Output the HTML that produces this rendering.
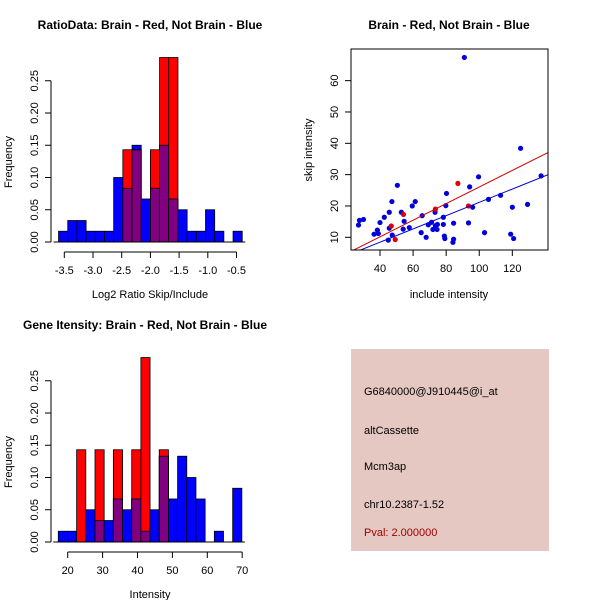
<!DOCTYPE html>
<html><head><meta charset="utf-8"><style>
body{margin:0;background:#fff}
svg{display:block;font-family:"Liberation Sans",sans-serif}
</style></head><body>
<svg id="s" width="600" height="600" viewBox="0 0 600 600" xmlns="http://www.w3.org/2000/svg">
<rect width="600" height="600" fill="#fff"/>
<text x="150" y="29" font-size="12" font-weight="bold" text-anchor="middle">RatioData: Brain - Red, Not Brain - Blue</text>
<text x="449" y="29" font-size="12" font-weight="bold" text-anchor="middle">Brain - Red, Not Brain - Blue</text>
<text x="145" y="329" font-size="12" font-weight="bold" text-anchor="middle">Gene Itensity: Brain - Red, Not Brain - Blue</text>
<g>
<rect x="351" y="349" width="198" height="202" fill="#e6c8c2"/>
<text x="364" y="395" font-size="11">G6840000@J910445@i_at</text>
<text x="364" y="434" font-size="11">altCassette</text>
<text x="364" y="470" font-size="11">Mcm3ap</text>
<text x="364" y="508" font-size="11">chr10.2387-1.52</text>
<text x="364" y="536" font-size="11" fill="#a00000">Pval: 2.000000</text>
</g>
</svg>
<script>
// Ratio histogram data
const ratioBinStart = -3.6, ratioBinWidth = 0.16;
const ratioBlue = [0.0167,0.0333,0.0333,0.0167,0.0167,0.0167,0.1,0.0833,0.15,0.0667,0.0833,0.15,0.0667,0.05,0.0167,0.0167,0.05,0.0167,0,0.0167];
const ratioRed  = [0,0,0,0,0,0,0,0.143,0.143,0,0.143,0.286,0.286,0,0,0,0,0,0,0];
const ratioXTicks = [-3.5,-3.0,-2.5,-2.0,-1.5,-1.0,-0.5];
const freqTicks = [0,0.05,0.10,0.15,0.20,0.25];
const freqTickLabels = ["0.00","0.05","0.10","0.15","0.20","0.25"];
// Intensity histogram data
const intBinStart = 17.3, intBinWidth = 2.63;
const intBlue = [0.0167,0.0167,0,0.05,0.0333,0.0333,0.0667,0.05,0.0667,0.0167,0.05,0.133,0.0667,0.133,0.1,0.0667,0,0.0167,0,0.0833];
const intRed  = [0,0,0.143,0,0.143,0,0.143,0,0.143,0.286,0,0.143,0,0,0,0,0,0,0,0];
const intXTicks = [20,30,40,50,60,70];
// Scatter data
const blueX = [27,27.6,30,36.4,38.4,39,40,42.6,45,45.6,45.6,47.2,47.4,50.5,52.9,54,54.6,57.7,59.5,61.3,64.9,65.5,67.9,69.2,71.2,72,73.3,73.5,74.5,74.7,78.3,78.3,78.9,79.2,79.8,80.2,84.1,84.5,84.5,91,93.5,94.2,96,99.6,103.2,105.6,112.9,119,120,120.8,125,129.2,137.4];
const blueY = [13.9,15.4,15.7,11,12.3,11.2,14.7,16.4,9.1,18,12.9,21.4,10.7,26.6,18,12.6,15.1,13.1,20,21.4,11.5,16.9,10,14,14.8,12.5,18,13.7,12.5,14.1,16.4,14.1,10.4,9.6,20.1,24,8.4,9.4,14.5,67.4,14.6,26.1,19.6,29.3,11.5,22.1,23.4,11,19.6,9.6,38.4,20.5,29.6];
const redX = [46.8,49.2,54.2,73.5,87.1,93.5];
const redY = [13.6,9.3,17.3,19,27.2,20];
const redFit = [-0.46,0.265];   // intercept, slope
const blueFit = [-0.04,0.212];
const scatterXTicks = [40,60,80,100,120];
const scatterYTicks = [10,20,30,40,50,60];

const NS="http://www.w3.org/2000/svg", svg=document.getElementById('s');
function el(tag,attrs,parent){const e=document.createElementNS(NS,tag);for(const k in attrs)e.setAttribute(k,attrs[k]);(parent||svg).appendChild(e);return e;}

function histogram(name,cfg){
  const g=el('g',{});
  
  
  const sx=v=>cfg.x0px+(v-cfg.x0)*cfg.xs, sy=v=>cfg.base-v*cfg.ys;
  for(let i=0;i<cfg.blue.length;i++){
    const a=cfg.binStart+i*cfg.binWidth, b=a+cfg.binWidth;
    const x1=sx(a), w=sx(b)-x1, bl=cfg.blue[i], rd=cfg.red[i];
    if(bl>0){const r=el('rect',{x:x1,y:sy(bl),width:w,height:bl*cfg.ys,fill:'#0000ff',stroke:'#000','stroke-width':0.8},g);
      
      }
    if(rd>0){const r=el('rect',{x:x1,y:sy(rd),width:w,height:rd*cfg.ys,fill:'#ff0000',stroke:'#000','stroke-width':0.8},g);
      
      }
    const m=Math.min(bl,rd);
    if(m>0){const r=el('rect',{x:x1,y:sy(m),width:w,height:m*cfg.ys,fill:'#800080',stroke:'#000','stroke-width':0.8},g);
      
      }
    if(bl>rd&&rd>0){el('line',{x1:x1,x2:x1+w,y1:sy(rd),y2:sy(rd),stroke:'#000','stroke-width':0.8},g);}
  }
  // baseline
  el('line',{x1:sx(cfg.binStart)-5,x2:sx(cfg.binStart+cfg.blue.length*cfg.binWidth)+3,y1:cfg.base,y2:cfg.base,stroke:'#000'},g);
  // y axis
  const ya=el('g',{},g);
  
  
  el('line',{x1:cfg.yax,x2:cfg.yax,y1:sy(0),y2:sy(0.25),stroke:'#000'},ya);
  freqTicks.forEach((t,i)=>{const y=sy(t);
    el('line',{x1:cfg.yax,x2:cfg.yax-6,y1:y,y2:y,stroke:'#000'},ya);
    const tx=el('text',{x:cfg.yax-13,y:y,'font-size':11,'text-anchor':'middle',transform:`rotate(-90 ${cfg.yax-13} ${y})`},ya);tx.textContent=freqTickLabels[i];});
  const yl=el('text',{x:12,y:cfg.base-80,'font-size':11,'text-anchor':'middle',transform:`rotate(-90 12 ${cfg.base-80})`},g);
  
  
  yl.textContent='Frequency';
  // x axis
  const xa=el('g',{},g);
  
  
  const ay=cfg.base+10;
  el('line',{x1:sx(cfg.xTicks[0]),x2:sx(cfg.xTicks[cfg.xTicks.length-1]),y1:ay,y2:ay,stroke:'#000'},xa);
  cfg.xTicks.forEach(t=>{const x=sx(t);el('line',{x1:x,x2:x,y1:ay,y2:ay+6,stroke:'#000'},xa);
    const tx=el('text',{x:x,y:ay+22,'font-size':11,'text-anchor':'middle'},xa);tx.textContent=cfg.fmt(t);});
  const xl=el('text',{x:cfg.xlabX,y:cfg.base+56,'font-size':11,'text-anchor':'middle'},g);
  
  
  xl.textContent=cfg.xlab;
}
histogram('ratio-histogram',{blue:ratioBlue,red:ratioRed,binStart:ratioBinStart,binWidth:ratioBinWidth,x0:-3.5,x0px:64.3,xs:57.4,base:242,ys:645,yax:51,xTicks:ratioXTicks,fmt:t=>t.toFixed(1),xlab:'Log2 Ratio Skip/Include',xlabX:150});
histogram('intensity-histogram',{blue:intBlue,red:intRed,binStart:intBinStart,binWidth:intBinWidth,x0:20,x0px:67.7,xs:3.49,base:542,ys:645,yax:51,xTicks:intXTicks,fmt:t=>String(t),xlab:'Intensity',xlabX:150});

// Scatter
(function(){
  const g=el('g',{});
  
  
  const L=351,R=548,T=49,B=250;
  const sx=v=>380+(v-40)*1.654, sy=v=>237.3-(v-10)*3.133;
  const ix=v=>40+(v-380)/1.654;
  el('defs',{},g).innerHTML='<clipPath id="c"><rect x="351" y="49" width="197" height="201"/></clipPath>';
  const pts=el('g',{'clip-path':'url(#c)'},g);
  blueX.forEach((x,i)=>{const c=el('circle',{cx:sx(x),cy:sy(blueY[i]),r:2.6,fill:'#0000dd'},pts);
    
    });
  redX.forEach((x,i)=>{const c=el('circle',{cx:sx(x),cy:sy(redY[i]),r:2.6,fill:'#dd0000'},pts);
    
    });
  const xa=ix(L),xb=ix(R);
  const rl=el('line',{x1:L,x2:R,y1:sy(redFit[0]+redFit[1]*xa),y2:sy(redFit[0]+redFit[1]*xb),stroke:'#cc0000','stroke-width':1},pts);
  
  
  const bl=el('line',{x1:L,x2:R,y1:sy(blueFit[0]+blueFit[1]*xa),y2:sy(blueFit[0]+blueFit[1]*xb),stroke:'#0000cc','stroke-width':1},pts);
  
  
  el('rect',{x:L,y:T,width:R-L,height:B-T,fill:'none',stroke:'#000'},g);
  scatterXTicks.forEach(t=>{const x=sx(t);el('line',{x1:x,x2:x,y1:B,y2:B+6,stroke:'#000'},g);
    const tx=el('text',{x:x,y:B+22,'font-size':11,'text-anchor':'middle'},g);tx.textContent=t;});
  scatterYTicks.forEach(t=>{const y=sy(t);el('line',{x1:L,x2:L-6,y1:y,y2:y,stroke:'#000'},g);
    const tx=el('text',{x:L-13,y:y,'font-size':11,'text-anchor':'middle',transform:`rotate(-90 ${L-13} ${y})`},g);tx.textContent=t;});
  const xl=el('text',{x:449,y:298,'font-size':11,'text-anchor':'middle'},g);
  
  
  xl.textContent='include intensity';
  const yl=el('text',{x:312,y:150,'font-size':11,'text-anchor':'middle',transform:'rotate(-90 312 150)'},g);
  
  
  yl.textContent='skip intensity';
})();
</script>
</body></html>
